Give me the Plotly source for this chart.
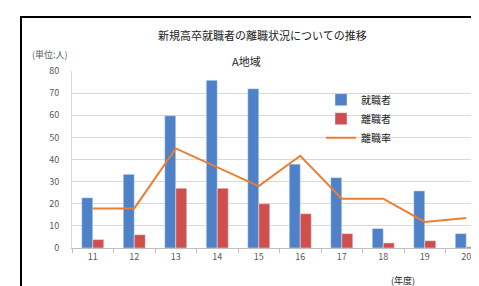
import plotly.graph_objects as go

categories = ["11", "12", "13", "14", "15", "16", "17", "18", "19", "20"]
employed = [22.7, 33.3, 59.8, 75.8, 72.0, 37.9, 31.8, 8.8, 25.8, 6.5]
separated = [3.8, 6.0, 27.0, 27.0, 20.0, 15.5, 6.5, 2.3, 3.3, 0.5]
sep_rate = [17.9, 17.9, 45.0, 36.4, 28.0, 41.7, 22.3, 22.3, 11.8, 13.6]
y_ticks = [0, 10, 20, 30, 40, 50, 60, 70, 80]

FONT = "Noto Sans CJK JP"

fig = go.Figure()
fig.add_trace(go.Bar(x=categories, y=employed, name="就職者", marker_color="#4f81c9"))
fig.add_trace(go.Bar(x=categories, y=separated, name="離職者", marker_color="#cf4f4c"))
fig.add_trace(go.Scatter(x=categories, y=sep_rate, name="離職率", mode="lines",
                         line=dict(color="#ED7D31", width=2)))

fig.update_layout(
    width=479, height=286,
    margin=dict(l=64, r=0, t=63, b=46),
    paper_bgcolor="white", plot_bgcolor="white",
    font=dict(family=FONT, size=9, color="#595959"),
    barmode="group", bargap=0.47, bargroupgap=0,
    showlegend=True,
    legend=dict(x=0.6, y=0.92, xanchor="left", yanchor="top",
                font=dict(family=FONT, size=10, color="#222"),
                bgcolor="rgba(0,0,0,0)", tracegroupgap=2),
    xaxis=dict(type="category", showgrid=False, showline=True, linecolor="#bfbfbf",
               ticks="outside", tickson="boundaries", ticklen=4, tickcolor="#bfbfbf",
               tickfont=dict(size=9, color="#595959")),
    yaxis=dict(range=[0, 80], tickvals=y_ticks, showgrid=True, gridcolor="#d9d9d9",
               showline=True, linecolor="#d9d9d9", zeroline=False,
               ticklabelstandoff=10,
               tickfont=dict(size=9, color="#595959")),
    shapes=[dict(type="rect", xref="paper", yref="paper",
                 x0=-0.1229, x1=1.2, y0=-0.6, y1=1.305,
                 line=dict(color="black", width=2), layer="above")],
    annotations=[
        dict(text="新規高卒就職者の離職状況についての推移", xref="paper", yref="paper",
             x=(254 - 64) / 415, y=(240 - 27) / 177, xanchor="center", yanchor="middle",
             showarrow=False, font=dict(family=FONT, size=11, color="#222")),
        dict(text="A地域", xref="paper", yref="paper",
             x=(238 - 64) / 415, y=(240 - 53) / 177, xanchor="center", yanchor="middle",
             showarrow=False, font=dict(family=FONT, size=11, color="#222")),
        dict(text="(単位:人)", xref="paper", yref="paper",
             x=(42 - 64) / 415, y=(240 - 46) / 177, xanchor="center", yanchor="middle",
             showarrow=False, font=dict(family=FONT, size=9, color="#595959")),
        dict(text="(年度)", xref="paper", yref="paper",
             x=(395 - 64) / 415, y=(240 - 272) / 177, xanchor="center", yanchor="middle",
             showarrow=False, font=dict(family=FONT, size=9, color="#222")),
    ],
)

fig.write_html("out.html")
